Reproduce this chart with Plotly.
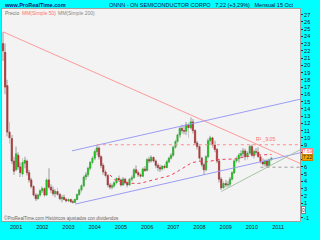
import plotly.graph_objects as go
import pandas as pd
import numpy as np

# ---------------- data (monthly, Jul 2000 .. Oct 2010) ----------------
start_month = '2000-07-01'
opens = [23.0, 21.8, 17.2, 10.8, 9.9, 6.8,
         5.6, 7.6, 6.0, 5.0, 6.5, 6.8, 5.2, 4.2, 3.3, 2.1, 1.6, 2.1,
         2.7, 3.0, 2.1, 4.2, 3.2, 2.8, 2.3, 2.6, 2.2, 1.6, 1.8, 1.5,
         1.3, 1.5, 1.2, 1.1, 1.5, 2.2, 2.8, 3.4, 4.6, 4.9, 5.8, 6.6,
         7.2, 8.1, 8.6, 7.4, 6.2, 5.3, 4.8, 3.5, 3.2, 3.4, 3.8, 4.4,
         4.2, 3.5, 4.3, 3.8, 3.5, 4.3, 4.5, 5.6, 5.2, 4.9, 4.7, 5.7,
         5.5, 7.0, 6.8, 7.3, 6.8, 6.2, 5.9, 5.7, 6.1, 5.9, 6.7, 7.2,
         7.6, 8.7, 9.5, 10.4, 11.3, 11.0, 10.9, 11.8, 11.4, 12.2, 11.0, 9.3,
         8.8, 7.2, 6.3, 5.6, 7.4, 9.6, 10.0, 9.0, 8.4, 6.8, 4.3, 3.1,
         3.7, 3.5, 3.6, 4.3, 5.2, 6.8, 7.1, 7.6, 7.8, 8.2, 7.4, 7.9,
         8.8, 7.6, 8.1, 8.0, 7.4, 6.7, 6.4, 6.8, 6.2, 7.0]
highs = [24.6, 23.0, 18.0, 12.2, 10.4, 7.4,
         8.8, 8.0, 6.6, 7.2, 7.4, 7.0, 5.6, 4.5, 3.5, 2.4, 2.3, 2.9,
         3.3, 3.2, 4.5, 5.8, 3.6, 3.3, 2.9, 3.1, 2.4, 2.1, 2.2, 1.7,
         1.7, 1.6, 1.5, 1.6, 2.3, 3.0, 3.6, 4.8, 5.3, 6.0, 6.8, 7.5,
         8.4, 9.0, 8.8, 7.6, 6.5, 5.6, 5.0, 3.8, 3.7, 4.0, 4.6, 4.8,
         4.4, 4.6, 4.5, 4.0, 4.5, 4.8, 5.8, 6.2, 5.5, 5.2, 5.9, 6.1,
         7.2, 7.4, 7.6, 7.5, 7.0, 6.5, 6.3, 6.2, 6.4, 6.9, 7.4, 7.9,
         8.9, 9.8, 10.6, 11.6, 11.8, 11.7, 12.2, 12.1, 12.8, 12.6, 11.2, 9.6,
         9.0, 7.4, 6.6, 7.6, 9.9, 10.3, 10.2, 9.6, 8.6, 7.0, 4.6, 4.0,
         4.2, 4.0, 4.6, 5.4, 7.0, 7.5, 7.9, 8.3, 8.6, 8.5, 8.2, 9.0,
         9.1, 8.4, 8.6, 8.7, 7.6, 7.2, 7.0, 7.0, 7.1, 7.4]
lows = [20.6, 16.0, 10.2, 9.2, 6.4, 4.9,
        5.4, 5.6, 4.6, 4.6, 5.8, 4.8, 3.8, 3.0, 1.9, 1.3, 1.5, 1.9,
        2.4, 1.8, 2.0, 3.0, 2.4, 2.0, 1.8, 2.0, 1.4, 1.1, 1.4, 1.1,
        1.1, 1.0, 0.95, 1.0, 1.4, 2.0, 2.5, 3.2, 4.2, 4.6, 5.5, 6.3,
        6.9, 7.6, 7.0, 5.8, 4.9, 4.5, 3.2, 2.9, 2.9, 3.1, 3.6, 3.9,
        3.3, 3.4, 3.6, 3.2, 3.4, 4.0, 4.4, 5.0, 4.6, 4.4, 4.6, 5.3,
        5.4, 6.5, 6.6, 6.6, 5.8, 5.4, 5.3, 5.5, 5.6, 5.8, 6.5, 7.0,
        7.4, 8.5, 9.2, 10.0, 10.6, 10.5, 10.4, 10.0, 11.2, 10.6, 9.0, 8.4,
        6.8, 6.0, 4.9, 5.4, 7.2, 9.0, 8.6, 8.0, 6.5, 3.8, 2.8, 3.0,
        3.2, 3.2, 3.3, 4.1, 5.0, 6.5, 6.6, 7.2, 7.3, 6.9, 7.0, 7.7,
        7.4, 7.2, 7.6, 7.3, 6.4, 6.2, 6.0, 5.9, 6.0, 6.8]
closes = [22.0, 17.0, 10.8, 10.0, 6.8, 5.4,
          7.8, 6.0, 5.2, 6.6, 6.9, 5.2, 4.2, 3.3, 2.1, 1.6, 2.1, 2.7,
          3.0, 2.1, 4.2, 3.2, 2.8, 2.3, 2.6, 2.2, 1.6, 1.8, 1.5, 1.3,
          1.5, 1.2, 1.1, 1.5, 2.2, 2.8, 3.4, 4.6, 4.9, 5.8, 6.6, 7.2,
          8.1, 8.6, 7.4, 6.2, 5.3, 4.8, 3.5, 3.2, 3.4, 3.8, 4.4, 4.2,
          3.5, 4.3, 3.8, 3.5, 4.3, 4.5, 5.6, 5.2, 4.9, 4.7, 5.7, 5.5,
          7.0, 6.8, 7.3, 6.8, 6.2, 5.9, 5.7, 6.1, 5.9, 6.7, 7.2, 7.6,
          8.7, 9.5, 10.4, 11.3, 11.0, 10.9, 11.8, 11.4, 12.2, 11.0, 9.3, 8.8,
          7.2, 6.3, 5.6, 7.4, 9.6, 10.0, 9.0, 8.4, 6.8, 4.3, 3.1, 3.7,
          3.5, 3.6, 4.3, 5.2, 6.8, 7.1, 7.6, 7.8, 8.2, 7.4, 7.9, 8.8,
          7.6, 8.1, 8.0, 7.4, 6.7, 6.4, 6.8, 6.2, 7.0, 7.22]

year_ticks = ['2001', '2002', '2003', '2004', '2005', '2006',
              '2007', '2008', '2009', '2010', '2011']
price_ticks = list(range(-1, 28))
hidden_price_ticks = [7, 8]   # covered by the value boxes in the original

# drawn trend lines (date, price)
resist_dates = ['2000-07-03', '2011-11-03']
resist_vals = [24.62, 6.48]
chan_up_dates = ['2003-02-20', '2011-11-03']
chan_up_vals = [8.21, 15.32]
chan_lo_dates = ['2003-04-03', '2011-11-03']
chan_lo_vals = [0.86, 7.93]
support_dates = ['2008-11-01', '2011-11-03']
support_vals = [2.6, 8.34]
hline_red_dates = ['2004-02-01', '2011-11-03']
hline_red_val = 9.05
hline_gray_dates = ['2010-05-01', '2011-11-03']
hline_gray_val = 5.95
last_price = 7.22

# ---------------- figure ----------------
o = np.array(opens); h = np.array(highs); l = np.array(lows); c = np.array(closes)
dates = pd.date_range(start_month, periods=len(c), freq='MS')
ma50 = pd.Series(c).rolling(50).mean()

up = c >= o
body_base = np.minimum(o, c)
body_h = np.maximum(np.abs(c - o), 0.1)
fill = np.where(up, '#28d428', '#d23c3c')
edge = np.where(up, '#189018', '#8a2020')

DAY = 86400000
fig = go.Figure()

fig.add_trace(go.Bar(x=dates, y=h - l, base=l, width=11 * DAY,
                     marker=dict(color='#c8c8c8', line=dict(width=0)),
                     showlegend=False, hoverinfo='skip'))

def line(xs, ys, color, dash='solid', width=1):
    fig.add_trace(go.Scatter(x=xs, y=ys, mode='lines', showlegend=False,
                             line=dict(color=color, width=width, dash=dash),
                             hoverinfo='skip'))

line(dates, ma50, '#f03c5a', 'dot', 1)
line(resist_dates, resist_vals, '#ff9a9a')
line(chan_up_dates, chan_up_vals, '#9c9cf4')
line(chan_lo_dates, chan_lo_vals, '#9c9cf4')
line(support_dates, support_vals, '#a8c4a8')
line(hline_red_dates, [hline_red_val] * 2, '#ff8c8c', 'dot')
line(hline_gray_dates, [hline_gray_val] * 2, '#9a9a9a', 'dot')

fig.add_trace(go.Bar(x=dates, y=body_h, base=body_base, width=19 * DAY,
                     marker=dict(color=fill, line=dict(color=edge, width=0.5)),
                     showlegend=False, hoverinfo='skip'))

W, H = 320, 240
ml, mr, mt, mb = 2, 20, 9, 19
pw, ph = W - ml - mr, H - mt - mb

def px(x):
    return (x - ml) / pw

def py(y):
    return (H - mb - y) / ph

FONT = 'Liberation Sans, Arial, sans-serif'
ann = []
ann.append(dict(x=px(2), y=py(5), xref='paper', yref='paper', xanchor='left',
                yanchor='middle', text='<b>www.ProRealTime.com</b>', showarrow=False,
                font=dict(size=5.5, color='#10107a', family=FONT)))
ann.append(dict(x=px(107), y=py(5), xref='paper', yref='paper', xanchor='left',
                yanchor='middle', showarrow=False,
                text='ONNN - ON SEMICONDUCTOR CORPO&nbsp;&nbsp; 7,22 (+3,29%)&nbsp;&nbsp; Mensual 15 Oct',
                font=dict(size=5.5, color='#101040', family=FONT)))
for xx, t, col in [(3, 'Precio', '#777777'), (20, 'MM(Simple 50)', '#ff7070'),
                   (56, 'MM(Simple 200)', '#888888')]:
    ann.append(dict(x=px(xx), y=py(13), xref='paper', yref='paper', xanchor='left',
                    yanchor='middle', text=t, showarrow=False,
                    font=dict(size=5, color=col, family=FONT)))
ann.append(dict(x=px(2), y=py(218), xref='paper', yref='paper', xanchor='left',
                yanchor='middle', showarrow=False,
                text='©ProRealTime.com Históricos ajustados con dividendos',
                font=dict(size=4.6, color='#666666', family=FONT)))
ann.append(dict(x=pd.Timestamp('2010-02-01'), y=hline_red_val, xref='x', yref='y',
                xanchor='left', yanchor='bottom', yshift=1, showarrow=False,
                text='R² _9.05', font=dict(size=5, color='#ff6a6a', family=FONT)))
# right-axis value boxes
ann.append(dict(x=1, y=28, xref='paper', yref='y', xanchor='left', yanchor='middle',
                xshift=3, showarrow=False, text='28',
                font=dict(size=5.5, color='#202020', family=FONT)))
ma_last = float(ma50.iloc[-1])
ann.append(dict(x=1, y=max(ma_last, last_price + 0.85), xref='paper', yref='y',
                xanchor='left', yanchor='middle', xshift=2, showarrow=False,
                text=f'{ma_last:.2f}', bgcolor='#ffffff', bordercolor='#ff8080',
                borderwidth=1, borderpad=0,
                font=dict(size=4.6, color='#ff5050', family=FONT)))
ann.append(dict(x=1, y=last_price, xref='paper', yref='y', xanchor='left',
                yanchor='middle', xshift=2, showarrow=False, text='7.22',
                bgcolor='#f4a800', bordercolor='#c08000', borderwidth=1, borderpad=0,
                font=dict(size=4.6, color='#202020', family=FONT)))
ann.append(dict(x=1, y=0, xref='paper', yref='y', xanchor='left', yanchor='middle',
                xshift=1, showarrow=False, text='0', bgcolor='#ffffff',
                bordercolor='#808080', borderwidth=1, borderpad=0,
                font=dict(size=5, color='#202020', family=FONT)))

price_text = ['' if (t in hidden_price_ticks or t == 0) else str(t) for t in price_ticks]

fig.update_layout(
    width=W, height=H, margin=dict(l=ml, r=mr, t=mt, b=mb),
    paper_bgcolor='#00ffff', plot_bgcolor='#f3f3f3',
    barmode='overlay', showlegend=False, annotations=ann,
    font=dict(family=FONT, size=5.5, color='#202020'),
    xaxis=dict(type='date', range=['2000-06-18', '2011-11-03'],
               tickvals=[f'{y}-01-01' for y in year_ticks], ticktext=year_ticks,
               tickfont=dict(size=5.5, color='#202020'), showgrid=False,
               zeroline=False, showline=True, linecolor='#a0a0a0', mirror=True,
               ticks='', fixedrange=True),
    yaxis=dict(side='right', range=[-1.47, 27.77], tickvals=price_ticks,
               ticktext=price_text,
               tickfont=dict(size=5.5, color='#202020'), ticks='outside',
               ticklen=2, tickcolor='#303030', showgrid=False, zeroline=False,
               showline=True, linecolor='#a0a0a0', mirror=True, fixedrange=True),
)

fig.write_html('out.html')
